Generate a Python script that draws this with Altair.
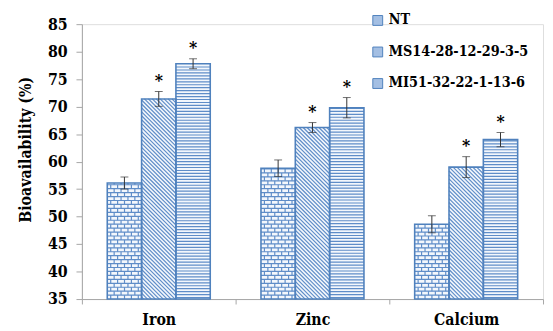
import altair as alt
import pandas as pd

categories = ["Iron", "Zinc", "Calcium"]
series = ["NT", "MS14-28-12-29-3-5", "MI51-32-22-1-13-6"]
values = {
    "NT": [56.1, 58.8, 48.6],
    "MS14-28-12-29-3-5": [71.4, 66.2, 59.0],
    "MI51-32-22-1-13-6": [77.8, 69.8, 64.0],
}
errors = {
    "NT": [1.1, 1.5, 1.55],
    "MS14-28-12-29-3-5": [1.35, 0.9, 1.9],
    "MI51-32-22-1-13-6": [0.9, 1.85, 1.3],
}
stars = {
    "NT": ["", "", ""],
    "MS14-28-12-29-3-5": ["*", "*", "*"],
    "MI51-32-22-1-13-6": ["*", "*", "*"],
}
y_ticks = [35, 40, 45, 50, 55, 60, 65, 70, 75, 80, 85]

# ---- layout / style ----
W, H = 468, 279
YMIN, YMAX = 35, 85
FONT = "DejaVu Serif Condensed"
FONT2 = "DejaVu Serif"
BLUE = "#4F81BD"
LINE = "#5F8DC8"
LIGHT = "#F3F7FC"
PO = 0.165
BW = (1 - 2 * PO) / 3
XPX = 3 / W
YPX = (YMAX - YMIN) / H

rows = []
for j, s in enumerate(series):
    for i, c in enumerate(categories):
        v = values[s][i]
        e = errors[s][i]
        rows.append({"category": c, "series": s, "ci": i, "si": j, "value": v,
                     "lo": v - e, "hi": v + e, "star": stars[s][i]})
df = pd.DataFrame(rows)

# fill patterns derived from each bar's extent
pat = []
for r in rows:
    x0 = r["ci"] + PO + r["si"] * BW
    wpx = BW / XPX
    hpx = (r["value"] - YMIN) / YPX
    if r["si"] == 2:  # horizontal lines
        k = 0
        while (k + 0.5) * 3.0 < hpx - 0.5:
            yv = YMIN + (k + 0.5) * 3.0 * YPX
            pat.append({"xa": x0, "xb": x0 + BW, "ya": yv, "yb": yv})
            k += 1
    elif r["si"] == 1:  # diagonal lines
        p = 4.0
        cc = p / 2
        while cc < wpx + hpx:
            ua = max(0.0, cc - hpx)
            ub = min(wpx, cc)
            pat.append({"xa": x0 + ua * XPX, "xb": x0 + ub * XPX,
                        "ya": YMIN + (cc - ua) * YPX, "yb": YMIN + (cc - ub) * YPX})
            cc += p
    else:  # bricks
        rh, bl = 4.0, 7.0
        k = 0
        while (k + 1) * rh < hpx:
            yv = YMIN + (k + 1) * rh * YPX
            pat.append({"xa": x0, "xb": x0 + BW, "ya": yv, "yb": yv})
            k += 1
        k = 0
        while k * rh < hpx:
            off = bl / 2 if k % 2 else 0.0
            u = off + bl / 2
            while u < wpx:
                top = min((k + 1) * rh, hpx)
                pat.append({"xa": x0 + u * XPX, "xb": x0 + u * XPX,
                            "ya": YMIN + k * rh * YPX, "yb": YMIN + top * YPX})
                u += bl
            k += 1
pat_df = pd.DataFrame(pat)

label_expr = " : ".join(
    [f"datum.value == {i} ? '{c}'" for i, c in enumerate(categories)]) + " : ''"

xscale = alt.Scale(domain=[0, 3], nice=False, zero=False)
xaxis = alt.Axis(title=None, values=[0, 1, 2, 3], labelExpr=label_expr,
                 labelOffset=W / 6, labelFlush=False, labelFont=FONT,
                 labelFontWeight="bold", labelFontSize=16, labelColor="black",
                 labelPadding=8, labelBound=False, labelOverlap=False,
                 domainColor="#A6A6A6", tickColor="#A6A6A6", tickSize=5, grid=False)
yscale = alt.Scale(domain=[YMIN, YMAX], zero=False, nice=False)
yaxis = alt.Axis(title="Bioavailability (%)", values=y_ticks, labelFont=FONT,
                 labelFontWeight="bold", labelFontSize=16, labelColor="black",
                 labelPadding=9, labelOverlap=False, labelBound=False, titleFont=FONT,
                 titleFontWeight="bold", titleFontSize=16, titleColor="black",
                 titlePadding=14, titleY=127, domainColor="#A6A6A6", tickColor="#A6A6A6",
                 tickSize=6, grid=False)

calc = dict(x0=f"datum.ci + {PO} + datum.si * {BW}",
            x1=f"datum.ci + {PO} + (datum.si + 1) * {BW}",
            xc=f"datum.ci + {PO} + (datum.si + 0.5) * {BW}")

bars_src = alt.Chart(df).transform_calculate(**calc)

base = bars_src.mark_bar(strokeWidth=0, fill=LIGHT).encode(
    x=alt.X("x0:Q", scale=xscale, axis=xaxis), x2="x1:Q",
    y=alt.Y("value:Q", scale=yscale, axis=yaxis), y2=alt.datum(YMIN),
)

patterns = alt.Chart(pat_df).mark_rule(color=LINE, strokeWidth=1.2).encode(
    x=alt.X("xa:Q", scale=xscale, axis=xaxis), x2="xb:Q",
    y=alt.Y("ya:Q", scale=yscale, axis=yaxis), y2="yb:Q",
)

outline = bars_src.mark_bar(fillOpacity=0, stroke=BLUE, strokeWidth=1.6).encode(
    x=alt.X("x0:Q", scale=xscale, axis=xaxis), x2="x1:Q",
    y=alt.Y("value:Q", scale=yscale, axis=yaxis), y2=alt.datum(YMIN),
    fill=alt.Fill("series:N", sort=series,
                  scale=alt.Scale(domain=series, range=["#A4BFE3", "#A4BFE3", "#A4BFE3"]),
                  legend=alt.Legend(title=None, orient="none", legendX=293, legendY=-11,
                                    labelFont=FONT, labelFontWeight="bold", labelFontSize=14.5,
                                    labelColor="black", labelLimit=240,
                                    symbolType="square", symbolSize=100,
                                    symbolStrokeColor=BLUE, symbolStrokeWidth=1,
                                    symbolOpacity=1, symbolFillColor="#A4BFE3",
                                    rowPadding=16, labelOffset=4)),
)

err_rule = bars_src.mark_rule(color="#333333", strokeWidth=1).encode(
    x=alt.X("xc:Q", scale=xscale, axis=xaxis),
    y=alt.Y("lo:Q", scale=yscale, axis=yaxis), y2="hi:Q")
cap_lo = bars_src.mark_tick(color="#333333", thickness=1, size=8, orient="horizontal").encode(
    x=alt.X("xc:Q", scale=xscale, axis=xaxis), y=alt.Y("lo:Q", scale=yscale, axis=yaxis))
cap_hi = bars_src.mark_tick(color="#333333", thickness=1, size=8, orient="horizontal").encode(
    x=alt.X("xc:Q", scale=xscale, axis=xaxis), y=alt.Y("hi:Q", scale=yscale, axis=yaxis))
star_text = bars_src.mark_text(font=FONT2, fontWeight="bold", fontSize=16,
                               baseline="alphabetic", dy=-6, color="black").encode(
    x=alt.X("xc:Q", scale=xscale, axis=xaxis),
    y=alt.Y("hi:Q", scale=yscale, axis=yaxis), text="star:N")

chart = alt.layer(base, patterns, outline, err_rule, cap_lo, cap_hi, star_text).properties(
    width=W, height=H,
    autosize=alt.AutoSizeParams(type="none"),
    padding={"left": 75, "top": 14, "right": 2, "bottom": 28},
).configure_view(stroke=None).configure(background="white")

chart.save("out.html", embed_options={"renderer": "svg", "actions": False})
